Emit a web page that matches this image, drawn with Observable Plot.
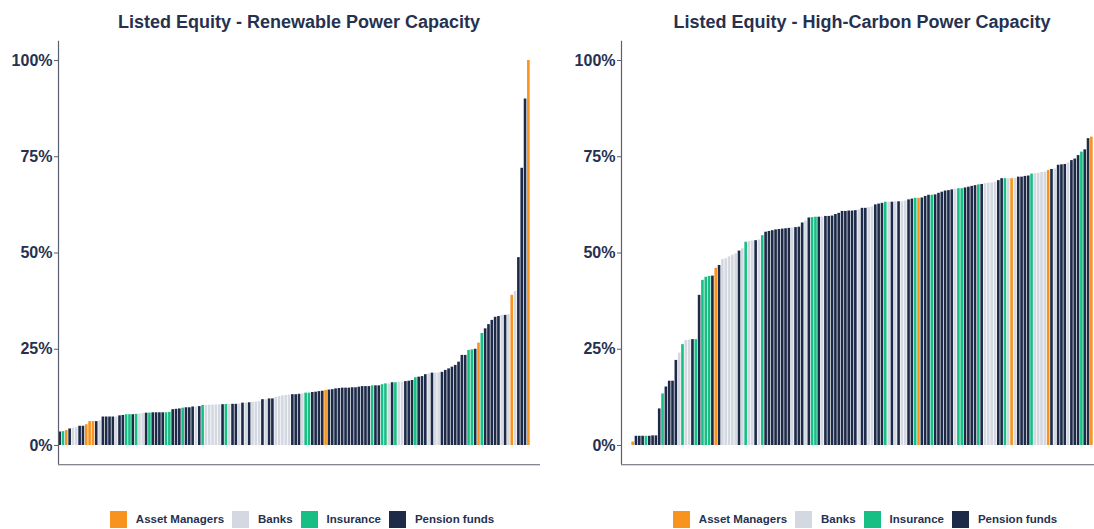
<!DOCTYPE html>
<html>
<head>
<meta charset="utf-8">
<script src="https://cdn.jsdelivr.net/npm/d3@7"></script>
<script src="https://cdn.jsdelivr.net/npm/@observablehq/plot@0.6"></script>
<style>
  html, body { margin: 0; padding: 0; background: #ffffff; }
  body { width: 1094px; height: 529px; overflow: hidden; font-family: "Liberation Sans", Arial, Helvetica, sans-serif; }
  #wrap { position: relative; width: 1126px; height: 529px; }
  .panel { position: absolute; top: 0; width: 563px; height: 529px; }
  .title { position: absolute; left: 58px; width: 482px; top: 12px; text-align: center; font-weight: bold; font-size: 18px; color: #263150; white-space: nowrap; }
  .plot { position: absolute; left: 0; top: 0; }
  .legend { position: absolute; left: 62px; width: 488px; top: 510px; height: 18px; display: flex; justify-content: center; align-items: center; }
  .item { display: flex; align-items: center; margin-right: 8px; }
  .sw { width: 17px; height: 17px; margin-right: 9px; }
  .lab { font-size: 11.5px; font-weight: bold; color: #263150; }
</style>
</head>
<body>
<div id="wrap"></div>
<script>
// ---- data ----
const categories = ["Asset Managers", "Banks", "Insurance", "Pension funds"];
const categoryCodes = ["A", "B", "I", "P"];
const categoryColors = ["#F7931E", "#D4D9E1", "#17BF84", "#1D2A48"];
const yTicks = [0, 0.25, 0.5, 0.75, 1];
const titles = ["Listed Equity - Renewable Power Capacity", "Listed Equity - High-Carbon Power Capacity"];

// Renewable power capacity share (%) per fund, sorted ascending
const renewableShare = [
  3.5, 3.6, 3.9, 4.3, 4.5, 4.6, 5.0, 5.0, 5.4, 6.2,
  6.2, 6.2, 6.4, 7.4, 7.4, 7.4, 7.4, 7.4, 7.7, 7.8,
  8.0, 8.0, 8.0, 8.1, 8.2, 8.3, 8.4, 8.4, 8.5, 8.5,
  8.5, 8.5, 8.5, 8.6, 9.3, 9.4, 9.5, 9.7, 9.8, 9.8,
  10.0, 10.0, 10.1, 10.4, 10.4, 10.45, 10.5, 10.55, 10.6, 10.6,
  10.65, 10.65, 10.7, 10.7, 10.8, 11.0, 11.0, 11.1, 11.2, 11.3,
  11.4, 11.9, 11.9, 12.1, 12.1, 12.5, 12.7, 12.9, 13.0, 13.1,
  13.2, 13.2, 13.3, 13.4, 13.6, 13.6, 13.77, 13.85, 14.0, 14.1,
  14.3, 14.4, 14.5, 14.7, 14.8, 14.9, 14.9, 14.9, 15.0, 15.0,
  15.15, 15.3, 15.3, 15.3, 15.5, 15.5, 15.5, 15.8, 16.0, 16.0,
  16.3, 16.3, 16.45, 16.45, 16.6, 16.7, 16.9, 17.6, 17.75, 17.9,
  18.4, 18.6, 18.8, 18.8, 18.9, 19.0, 19.5, 19.9, 20.35, 20.8,
  21.65, 23.4, 23.4, 24.7, 24.85, 25.0, 26.6, 29.1, 30.3, 31.4,
  32.5, 33.3, 33.5, 33.8, 33.8, 34.0, 39.0, 40.0, 48.8, 72.0,
  90.0, 100.0
];
const renewableType = [
  "P","I","A","P","B","B","P","P","A","A",
  "A","P","B","P","P","P","P","B","P","P",
  "I","I","P","I","B","B","P","I","P","P",
  "P","P","I","I","P","P","P","I","P","P",
  "P","B","P","I","B","B","B","B","B","P",
  "I","B","P","P","B","P","B","P","B","B",
  "B","P","B","P","P","B","B","B","B","B",
  "P","P","P","B","I","I","P","P","P","P",
  "A","P","P","P","P","P","P","P","P","P",
  "P","P","P","P","I","P","P","I","I","B",
  "P","I","B","B","P","P","P","I","P","P",
  "P","B","P","B","B","P","P","P","P","P",
  "P","P","P","I","I","P","A","I","P","P",
  "P","P","P","B","P","B","A","B","P","P",
  "P","A"
];

// High-carbon power capacity share (%) per fund, sorted ascending
const highCarbonShare = [
  0, 0, 0, 0.9, 2.4, 2.4, 2.4, 2.4, 2.4, 2.5,
  2.5, 9.5, 13.4, 15.2, 16.7, 16.7, 22.1, 24.0, 26.2, 27.3,
  27.4, 27.5, 27.5, 39.0, 42.9, 43.7, 43.9, 44.0, 46.0, 46.75,
  48.3, 48.5, 49.0, 49.4, 49.8, 50.5, 51.1, 52.8, 53.0, 53.1,
  53.2, 53.4, 54.5, 55.4, 55.6, 55.8, 56.0, 56.1, 56.2, 56.3,
  56.4, 56.5, 56.6, 56.7, 57.8, 58.3, 59.1, 59.2, 59.3, 59.3,
  59.3, 59.5, 59.5, 59.6, 60.0, 60.3, 60.8, 60.8, 60.9, 60.9,
  61.0, 61.2, 61.6, 61.6, 61.8, 62.0, 62.5, 62.7, 62.9, 63.2,
  63.2, 63.2, 63.3, 63.3, 63.3, 63.5, 63.8, 64.0, 64.2, 64.2,
  64.3, 64.7, 65.0, 65.0, 65.1, 65.5, 65.8, 66.1, 66.2, 66.4,
  66.6, 66.7, 66.7, 66.9, 67.1, 67.3, 67.5, 67.7, 67.8, 68.0,
  68.1, 68.2, 68.4, 68.8, 69.3, 69.3, 69.3, 69.3, 69.4, 69.7,
  69.7, 69.9, 70.0, 70.5, 70.6, 70.7, 70.9, 71.0, 71.4, 71.7,
  71.8, 72.8, 72.9, 73.0, 73.4, 74.0, 74.4, 75.3, 76.2, 76.8,
  79.7, 80.1
];
const highCarbonType = [
  "P","P","P","A","P","P","P","I","P","P",
  "P","P","I","P","P","P","P","B","I","B",
  "B","P","I","P","I","I","I","P","A","P",
  "B","B","B","B","B","P","B","I","B","B",
  "P","B","I","P","P","P","P","P","P","P",
  "P","B","P","P","P","B","P","I","I","P",
  "B","P","P","P","P","P","P","P","P","P",
  "P","B","P","P","B","B","P","P","P","I",
  "B","P","B","P","B","B","P","P","I","A",
  "P","P","P","I","P","P","P","P","P","P",
  "B","I","I","P","P","P","P","I","P","B",
  "B","B","B","P","P","I","B","A","B","P",
  "P","P","P","I","B","B","B","B","A","P",
  "B","P","P","P","B","P","P","P","I","P",
  "P","A"
];
const slotCount = 145; // fund positions along each panel's x axis

// ---- drawing ----
const textColor = "#263150";
const axisColor = "#5b5f6e";
const wrap = document.getElementById("wrap");

function makePanel(values, types, title, left) {
  const data = values.map((v, i) => ({
    i,
    v: v / 100,
    type: categories[categoryCodes.indexOf(types[i])]
  }));
  const panel = document.createElement("div");
  panel.className = "panel";
  panel.style.left = left + "px";

  const chart = Plot.plot({
    width: 563,
    height: 470,
    marginLeft: 58,
    marginRight: 23,
    marginTop: 40.75,
    marginBottom: 5.75,
    style: { background: "transparent", overflow: "visible", fontFamily: "'Liberation Sans', Arial, Helvetica, sans-serif" },
    x: { domain: [0, slotCount], axis: null },
    y: { domain: [-0.05, 1.05], label: null },
    color: { domain: categories, range: categoryColors },
    marks: [
      Plot.rect(data, {
        x1: "i",
        x2: d => d.i + 1,
        y1: 0,
        y2: "v",
        fill: "type",
        insetLeft: 0.35,
        insetRight: 0.35
      }),
      Plot.ruleY([-0.05], { stroke: axisColor, strokeWidth: 1.2 }),
      Plot.ruleX([0], { stroke: axisColor, strokeWidth: 1.2 }),
      Plot.axisY({
        ticks: yTicks,
        tickFormat: d3.format(".0%"),
        tickSize: 4,
        tickPadding: 2,
        fontSize: 16,
        fontWeight: "bold",
        fill: textColor,
        stroke: axisColor,
        label: null
      })
    ]
  });
  chart.classList.add("plot");
  panel.appendChild(chart);

  const t = document.createElement("div");
  t.className = "title";
  t.textContent = title;
  panel.appendChild(t);

  const lg = document.createElement("div");
  lg.className = "legend";
  categories.forEach((c, k) => {
    const item = document.createElement("div");
    item.className = "item";
    const sw = document.createElement("span");
    sw.className = "sw";
    sw.style.background = categoryColors[k];
    const lab = document.createElement("span");
    lab.className = "lab";
    lab.textContent = c;
    item.appendChild(sw);
    item.appendChild(lab);
    lg.appendChild(item);
  });
  panel.appendChild(lg);
  wrap.appendChild(panel);
}

makePanel(renewableShare, renewableType, titles[0], 0);
makePanel(highCarbonShare, highCarbonType, titles[1], 563);
</script>
</body>
</html>
